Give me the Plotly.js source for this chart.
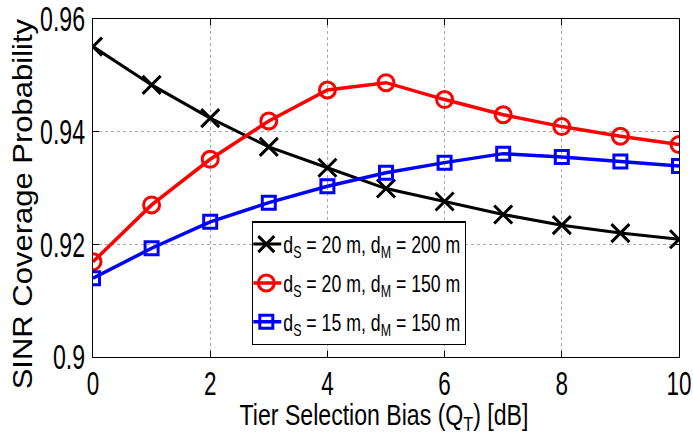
<!DOCTYPE html>
<html>
<head>
<meta charset="utf-8">
<script src="https://cdn.plot.ly/plotly-3.0.1.min.js"></script>
<style>html,body{margin:0;padding:0;background:#fff;}#chart{width:693px;height:441px;}</style>
</head>
<body>
<div id="chart"></div>
<script>
var bias = [0, 1, 2, 3, 4, 5, 6, 7, 8, 9, 10];
var seriesNames = [
  'd<sub>S</sub> = 20 m, d<sub>M</sub> = 200 m',
  'd<sub>S</sub> = 20 m, d<sub>M</sub> = 150 m',
  'd<sub>S</sub> = 15 m, d<sub>M</sub> = 150 m'
];
var cov_20_200 = [0.9551, 0.9483, 0.9424, 0.9373, 0.9336, 0.9299, 0.9276, 0.9253, 0.9234, 0.9220, 0.9209];
var cov_20_150 = [0.9169, 0.9270, 0.9351, 0.9419, 0.9474, 0.9487, 0.9457, 0.9430, 0.9409, 0.9392, 0.9377];
var cov_15_150 = [0.9140, 0.9193, 0.9240, 0.9274, 0.9303, 0.9327, 0.9345, 0.9361, 0.9355, 0.9347, 0.9339];
var xTicks = [0, 2, 4, 6, 8, 10];
var yTicks = [0.9, 0.92, 0.94, 0.96];
var yTickText = ['0.9', '0.92', '0.94', '0.96'];

var FONT = 'Liberation Sans, Arial, sans-serif';

var traces = [
  {x: bias, y: cov_20_200, name: seriesNames[0], legendgroup: 'g1', type: 'scatter', mode: 'lines+markers',
   line: {color: '#000000', width: 3},
   marker: {symbol: 'x-thin', size: 18, color: '#000000', line: {color: '#000000', width: 3}}},
  {x: bias, y: cov_20_150, name: seriesNames[1], legendgroup: 'g2', type: 'scatter', mode: 'lines+markers',
   line: {color: '#ff0000', width: 3.5},
   marker: {symbol: 'circle-open', size: 16, color: '#ff0000', line: {color: '#ff0000', width: 3}}},
  {x: bias, y: cov_15_150, name: seriesNames[2], legendgroup: 'g3', type: 'scatter', mode: 'lines+markers',
   line: {color: '#0000ff', width: 3.5},
   marker: {symbol: 'square-open', size: 13, color: '#0000ff', line: {color: '#0000ff', width: 3}}}
];

var layout = {
  width: 693, height: 441,
  margin: {l: 93, r: 14, t: 19, b: 84},
  paper_bgcolor: '#ffffff', plot_bgcolor: '#ffffff',
  font: {family: FONT, color: '#000000', size: 22},
  showlegend: true,
  legend: {
    x: 0.271, y: 0.402, xanchor: 'left', yanchor: 'top',
    bgcolor: '#ffffff', bordercolor: '#000000', borderwidth: 1.5,
    font: {family: FONT, size: 23, color: '#000000'},
    itemwidth: 30, tracegroupgap: 6
  },
  xaxis: {
    range: [0, 10], tickvals: xTicks, ticktext: xTicks.map(String),
    showline: true, linecolor: '#000000', linewidth: 1, mirror: 'ticks',
    ticks: 'inside', ticklen: 6, tickcolor: '#000000',
    showgrid: true, gridcolor: '#a8a8a8', griddash: 'dot', gridwidth: 1,
    zeroline: false, ticklabeloverflow: 'allow',
    tickfont: {family: FONT, size: 33, color: '#000000'},
    title: {text: 'Tier Selection Bias (Q<sub>T</sub>) [dB]', font: {family: FONT, size: 30, color: '#000000'}, standoff: 4}
  },
  yaxis: {
    range: [0.9, 0.96], tickvals: yTicks, ticktext: yTickText,
    showline: true, linecolor: '#000000', linewidth: 1, mirror: 'ticks',
    ticks: 'inside', ticklen: 6, tickcolor: '#000000',
    showgrid: true, gridcolor: '#a8a8a8', griddash: 'dot', gridwidth: 1,
    zeroline: false, ticklabeloverflow: 'allow',
    tickfont: {family: FONT, size: 35, color: '#000000'},
    title: {text: 'SINR Coverage Probability', font: {family: FONT, size: 31, color: '#000000'}, standoff: 4}
  }
};

function squeeze(el, sx, sy) {
  var x = parseFloat(el.getAttribute('x')) || 0;
  var y = parseFloat(el.getAttribute('y')) || 0;
  var t = el.getAttribute('transform') || '';
  el.setAttribute('transform', t + ' translate(' + x + ',' + y + ') scale(' + sx + ',' + sy + ') translate(' + (-x) + ',' + (-y) + ')');
}
function shift(el, dx, dy) {
  var t = el.getAttribute('transform') || '';
  el.setAttribute('transform', 'translate(' + dx + ',' + dy + ') ' + t);
}

var gd = document.getElementById('chart');
Plotly.newPlot(gd, traces, layout, {displayModeBar: false, staticPlot: true}).then(function () {
  gd.querySelectorAll('.xtick text').forEach(function (el) { squeeze(el, 0.68, 1); shift(el, 0, -3); });
  gd.querySelectorAll('.ytick text').forEach(function (el) { squeeze(el, 0.66, 1); });

  var xt = gd.querySelector('.g-xtitle text');
  if (xt) {
    squeeze(xt, 0.77, 1);
    var r = xt.getBoundingClientRect();
    shift(xt, 384 - (r.left + r.width / 2), 398 - r.top);
  }
  var yt = gd.querySelector('.g-ytitle text');
  if (yt) {
    squeeze(yt, 1, 0.9);
    var r2 = yt.getBoundingClientRect();
    shift(yt, 6 - r2.left, 204 - (r2.top + r2.height / 2));
  }

  var bg = gd.querySelector('.legend .bg');
  var maxRight = 0;
  gd.querySelectorAll('.legend .layers').forEach(function (el) { shift(el, -7, 0); });
  gd.querySelectorAll('.legend .legendtext').forEach(function (el) {
    squeeze(el, 0.77, 1);
    shift(el, -10, 0);
    var rr = el.getBoundingClientRect();
    if (rr.right > maxRight) maxRight = rr.right;
  });
  if (bg) {
    var br = bg.getBoundingClientRect();
    bg.setAttribute('width', Math.round(maxRight + 5 - br.left));
  }
});
</script>
</body>
</html>
